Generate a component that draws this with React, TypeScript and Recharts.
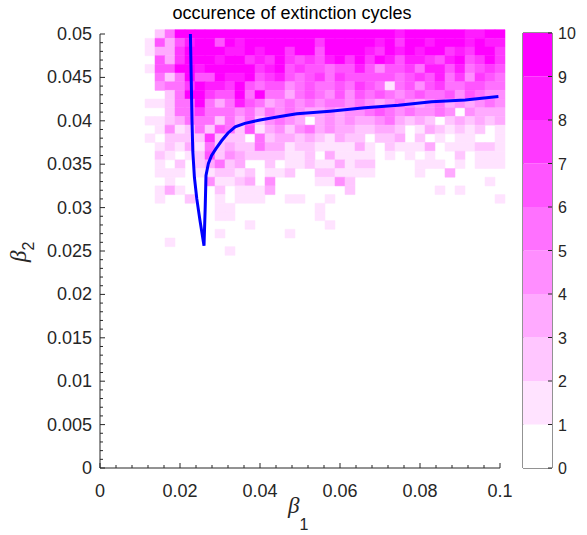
import { ComposedChart, BarChart, Bar, XAxis, YAxis, Scatter, ReferenceArea } from "recharts";

// grid of the simulation: beta1 columns, beta2 rows (top row first)
const b1Cols = [
  0, 0.0025, 0.005, 0.0075, 0.01, 0.0125, 0.015, 0.0175, 0.02, 0.0225, 0.025, 0.0275, 0.03, 0.0325,
  0.035, 0.0375, 0.04, 0.0425, 0.045, 0.0475, 0.05, 0.0525, 0.055, 0.0575, 0.06, 0.0625, 0.065,
  0.0675, 0.07, 0.0725, 0.075, 0.0775, 0.08, 0.0825, 0.085, 0.0875, 0.09, 0.0925, 0.095, 0.0975, 0.1,
];
const b2Rows = [
  0.05, 0.049, 0.048, 0.047, 0.046, 0.045, 0.044, 0.043, 0.042, 0.041, 0.04, 0.039, 0.038, 0.037,
  0.036, 0.035, 0.034, 0.033, 0.032, 0.031, 0.03, 0.029, 0.028, 0.027, 0.026, 0.025,
];
// number of runs (out of 10) ending in extinction cycles, one digit per beta1 column
const counts = [
  "00000025999999999999999999999989999998899",
  "00000163689969899999997999998979989998988",
  "00000133799998898997996999987989899787997",
  "00000063799989978797676897979868876896797",
  "00000166998999997896766566864667588685676",
  "00000052596698896786567576666656768574765",
  "00000045579887965664565565765156467556655",
  "00000002599766959553565464656545655646544",
  "00000112559535865345454554543454345343454",
  "00000002557555453545433434456545445404333",
  "00000112355525352454303434334532320232323",
  "00000014125265261342453433223320132121201",
  "00000102222722205233232132202230201011001",
  "00000012131523225331221111310211130111221",
  "00000021012624322221120311110101010020111",
  "00000010202352300201121131220000111010111",
  "00000011101122120112002211110000100300000",
  "00000001000411230400001142000000000000010",
  "00000013100020111300000002000000001010000",
  "00000010020010111001100100000000000000001",
  "00000000000011000000001000000000000000000",
  "00000000000011000000001000000000000000000",
  "00000000000000010000000100000000000000000",
  "00000000000010000001000000000000000000000",
  "00000001000000000000000000000000000000000",
  "00000000000001000000000000000000000000000",
];

// boundary curve
const curve = [
  { b1: 0.0226, b2: 0.05 },
  { b1: 0.0228, b2: 0.045 },
  { b1: 0.023, b2: 0.04 },
  { b1: 0.0232, b2: 0.0365 },
  { b1: 0.0236, b2: 0.0335 },
  { b1: 0.0242, b2: 0.031 },
  { b1: 0.025, b2: 0.0285 },
  { b1: 0.026, b2: 0.0256 },
  { b1: 0.0263, b2: 0.03 },
  { b1: 0.0265, b2: 0.0337 },
  { b1: 0.0271, b2: 0.0351 },
  { b1: 0.0279, b2: 0.036 },
  { b1: 0.029, b2: 0.0368 },
  { b1: 0.0304, b2: 0.0377 },
  { b1: 0.032, b2: 0.0386 },
  { b1: 0.0338, b2: 0.0393 },
  { b1: 0.0362, b2: 0.0397 },
  { b1: 0.04, b2: 0.0401 },
  { b1: 0.045, b2: 0.0405 },
  { b1: 0.0492, b2: 0.0408 },
  { b1: 0.0575, b2: 0.0411 },
  { b1: 0.0662, b2: 0.0415 },
  { b1: 0.0746, b2: 0.0418 },
  { b1: 0.0829, b2: 0.0422 },
  { b1: 0.0913, b2: 0.0424 },
  { b1: 0.0996, b2: 0.0428 },
];

const xMajor = [0, 0.02, 0.04, 0.06, 0.08, 0.1];
const xMinor = [
  0.004, 0.008, 0.012, 0.016, 0.024, 0.028, 0.032, 0.036, 0.044, 0.048, 0.052, 0.056, 0.064, 0.068,
  0.072, 0.076, 0.084, 0.088, 0.092, 0.096,
];
const yMajor = [0, 0.005, 0.01, 0.015, 0.02, 0.025, 0.03, 0.035, 0.04, 0.045, 0.05];
const yMinor = [
  0.001, 0.002, 0.003, 0.004, 0.006, 0.007, 0.008, 0.009, 0.011, 0.012, 0.013, 0.014, 0.016, 0.017,
  0.018, 0.019, 0.021, 0.022, 0.023, 0.024, 0.026, 0.027, 0.028, 0.029, 0.031, 0.032, 0.033, 0.034,
  0.036, 0.037, 0.038, 0.039, 0.041, 0.042, 0.043, 0.044, 0.046, 0.047, 0.048, 0.049,
];
const cbTicks = [0, 1, 2, 3, 4, 5, 6, 7, 8, 9, 10];
const cbLevels = [0, 1, 2, 3, 4, 5, 6, 7, 8, 9];
const levelColors = [
  "#FFFFFF", "#FFE3FF", "#FFC6FF", "#FFAAFF", "#FF8EFF",
  "#FF71FF", "#FF55FF", "#FF39FF", "#FF1CFF", "#FF00FF",
];

const halfW = 0.00125;
const halfH = 0.0005;
const axisColor = "#262626";
const font = "'Liberation Sans', Arial, sans-serif";

const xTicks = [...xMajor, ...xMinor].sort((a, b) => a - b);
const yTicks = [...yMajor, ...yMinor].sort((a, b) => a - b);

const cells: { b1: number; b2: number; v: number }[] = [];
counts.forEach((row, r) => {
  for (let c = 0; c < row.length; c++) {
    const v = Number(row[c]);
    if (v > 0) cells.push({ b1: b1Cols[c], b2: b2Rows[r], v });
  }
});

// one stacked column, each level one unit tall
const cbData = [Object.fromEntries([["name", "cb"], ...cbLevels.map((k) => [`l${k}`, 1])])];

function XTick({ x, y, payload }: any) {
  const major = xMajor.includes(payload.value);
  return (
    <g>
      <line x1={x} x2={x} y1={y} y2={y - (major ? 5 : 3)} stroke={axisColor} />
      {major && (
        <text x={x} y={y + 29} textAnchor="middle" fontSize={18} fontFamily={font} fill={axisColor}>
          {String(payload.value)}
        </text>
      )}
    </g>
  );
}

function YTick({ x, y, payload }: any) {
  const major = yMajor.includes(payload.value);
  return (
    <g>
      <line x1={x} x2={x + (major ? 5 : 3)} y1={y} y2={y} stroke={axisColor} />
      {major && (
        <text x={x - 8} y={y + 6} textAnchor="end" fontSize={18} fontFamily={font} fill={axisColor}>
          {String(payload.value)}
        </text>
      )}
    </g>
  );
}

function CbTick({ x, y, payload }: any) {
  return (
    <g>
      <line x1={x} x2={x - 4} y1={y} y2={y} stroke={axisColor} />
      <text x={x + 6} y={y + 6} textAnchor="start" fontSize={16} fontFamily={font} fill={axisColor}>
        {String(payload.value)}
      </text>
    </g>
  );
}

export default function App() {
  return (
    <div style={{ position: "absolute", left: 0, top: 0, width: 587, height: 535, background: "#fff" }}>
      <div style={{ position: "absolute", left: 0, top: 0 }}>
        <ComposedChart width={587} height={535} margin={{ top: 34, right: 87, bottom: 7, left: 40 }}>
          <XAxis
            type="number"
            dataKey="b1"
            domain={[0, 0.1]}
            allowDataOverflow
            ticks={xTicks}
            interval={0}
            tickLine={false}
            tickSize={0}
            tickMargin={0}
            axisLine={{ stroke: axisColor }}
            tick={<XTick />}
            height={60}
          />
          <YAxis
            type="number"
            dataKey="b2"
            domain={[0, 0.05]}
            allowDataOverflow
            ticks={yTicks}
            interval={0}
            tickLine={false}
            tickSize={0}
            tickMargin={0}
            axisLine={{ stroke: axisColor }}
            tick={<YTick />}
            width={60}
          />
          {cells.map((c, i) => (
            <ReferenceArea
              key={i}
              x1={c.b1 - halfW}
              x2={c.b1 + halfW}
              y1={c.b2 - halfH}
              y2={c.b2 + halfH}
              fill={levelColors[Math.min(c.v, 9)]}
              fillOpacity={1}
              stroke={levelColors[Math.min(c.v, 9)]}
              strokeWidth={0.5}
              ifOverflow="visible"
            />
          ))}
          <Scatter
            data={curve}
            dataKey="b2"
            fill="#0000FF"
            line={{ stroke: "#0000FF", strokeWidth: 3 }}
            shape={() => <g />}
            isAnimationActive={false}
          />
        </ComposedChart>
      </div>
      <div style={{ position: "absolute", left: 500, top: 0 }}>
        <BarChart
          width={87}
          height={535}
          data={cbData}
          margin={{ top: 33, right: 0, bottom: 67, left: 23 }}
          barCategoryGap={0}
        >
          <XAxis dataKey="name" hide />
          <YAxis
            orientation="right"
            type="number"
            domain={[0, 10]}
            ticks={cbTicks}
            interval={0}
            tickLine={false}
            tickSize={0}
            tickMargin={0}
            axisLine={false}
            tick={<CbTick />}
            width={35}
          />
          {cbLevels.map((k) => (
            <Bar key={k} dataKey={`l${k}`} stackId="cb" fill={levelColors[k]} isAnimationActive={false} />
          ))}
          <ReferenceArea y1={0} y2={10} fill="none" stroke={axisColor} ifOverflow="visible" />
        </BarChart>
      </div>
      <svg width={587} height={535} style={{ position: "absolute", left: 0, top: 0, pointerEvents: "none" }}>
        <text x={292} y={19} textAnchor="middle" fontSize={18} fontFamily={font} fill="#000">
          occurence of extinction cycles
        </text>
        <text x={288} y={513} fontSize={23} fontFamily="'Liberation Serif', serif" fontStyle="italic" fill={axisColor}>
          β
          <tspan fontFamily={font} fontStyle="normal" fontSize={16} dy={17}>
            1
          </tspan>
        </text>
        <text
          transform="translate(26, 262) rotate(-90)"
          fontSize={23}
          fontFamily="'Liberation Serif', serif"
          fontStyle="italic"
          fill={axisColor}
        >
          β
          <tspan fontFamily={font} fontStyle="normal" fontSize={16} dy={8}>
            2
          </tspan>
        </text>
      </svg>
    </div>
  );
}
